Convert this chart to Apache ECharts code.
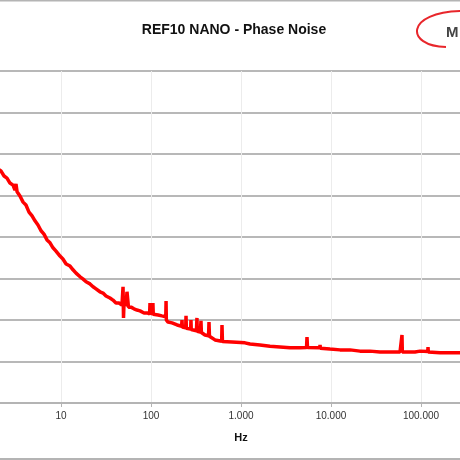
<!DOCTYPE html>
<html>
<head>
<meta charset="utf-8">
<script src="https://cdn.jsdelivr.net/npm/echarts@6/dist/echarts.min.js"></script>
<style>
  html, body { margin: 0; padding: 0; background: #fff; }
  #main { width: 460px; height: 460px; }
</style>
</head>
<body>
<div id="main"></div>
<script>
// offset frequency (Hz)
var freqs = [
  2.0, 2.15, 2.33, 2.51, 2.71, 2.93, 3.08, 3.16, 3.25, 3.50,
  3.79, 4.08, 4.41, 4.77, 5.14, 5.55, 6.0, 6.47, 6.99, 7.55,
  8.15, 8.80, 9.75, 10.5, 11.4, 12.6, 13.6, 14.7, 16.3, 17.5,
  19.0, 21.0, 22.7, 24.5, 27.1, 29.3, 31.6, 35.0, 37.8, 40.8,
  44.1, 47.6, 48.9, 49.5, 50.1, 52.7, 54.1, 55.5, 56.2, 60.0,
  64.7, 69.9, 75.5, 83.6, 90.3, 96.5, 97.5, 98.5, 104, 105,
  106, 110.8, 120, 132, 146, 147, 148, 154.4, 171, 195,
  219, 221, 223, 243, 245, 247, 276, 278, 280, 320,
  324, 327, 354, 359, 363, 398, 436, 441, 446, 514,
  610, 615, 622, 794, 1107, 1259, 1626, 2100, 2712, 3502,
  4523, 5350, 5412, 5480, 7500, 7555, 7620, 9750, 12590, 16260,
  21000, 27120, 35020, 45290, 58480, 61000, 61500, 62000, 85770, 97500,
  119000, 119700, 120500, 162600, 210000, 271200, 350000
];
// phase noise (dBc/Hz)
var noise = [
  -123.6, -124.1, -125.3, -125.8, -127.0, -127.5, -128.7, -127.2, -129.1, -130.1,
  -131.6, -132.3, -134.0, -134.9, -136.1, -137.1, -138.5, -139.3, -140.7, -141.4,
  -142.6, -143.4, -144.6, -145.3, -146.5, -147.0, -147.9, -148.7, -149.6, -150.1,
  -150.8, -151.3, -152.0, -152.5, -153.2, -153.5, -154.2, -154.7, -155.2, -155.9,
  -155.9, -156.4, -152.0, -159.5, -156.1, -156.6, -153.2, -153.2, -156.9, -156.9,
  -157.3, -157.6, -157.8, -158.3, -158.3, -158.5, -155.9, -158.4, -158.5, -155.9,
  -158.6, -158.6, -158.8, -159.0, -159.2, -155.4, -160.0, -160.5, -160.7, -161.2,
  -161.5, -160.0, -161.7, -161.9, -159.0, -162.0, -162.2, -160.0, -162.3, -162.6,
  -159.5, -162.7, -162.9, -160.2, -163.0, -163.6, -163.8, -160.5, -163.9, -164.8,
  -165.1, -161.2, -165.2, -165.3, -165.5, -165.8, -166.0, -166.3, -166.5, -166.7,
  -166.7, -166.6, -164.1, -166.6, -166.7, -166.0, -166.8, -167.0, -167.2, -167.2,
  -167.5, -167.5, -167.7, -167.7, -167.7, -167.7, -163.6, -167.7, -167.7, -167.5,
  -167.6, -166.5, -167.7, -167.9, -167.9, -167.9, -167.9
];
var xTicks = [10, 100, 1000, 10000, 100000];

var points = freqs.map(function (f, i) { return [f, noise[i]]; });

var chart = echarts.init(document.getElementById('main'));
chart.setOption({
  animation: false,
  backgroundColor: '#fff',
  title: {
    text: 'REF10 NANO - Phase Noise',
    left: 229,
    top: 18,
    textAlign: 'center',
    textStyle: { fontFamily: 'Liberation Sans', fontSize: 14, fontWeight: 'bold', color: '#111' }
  },
  grid: { left: -29, right: -51, top: 71, bottom: 57, containLabel: false, outerBoundsMode: 'none' },
  xAxis: {
    type: 'log',
    logBase: 10,
    min: 1,
    max: 1000000,
    name: 'Hz',
    nameLocation: 'middle',
    nameGap: 29,
    nameTextStyle: { fontFamily: 'Liberation Sans', fontSize: 11, fontWeight: 'bold', color: '#111' },
    axisLine: { lineStyle: { color: '#b4b4b4', width: 2 } },
    axisTick: { show: true, length: 4, lineStyle: { color: '#b4b4b4' } },
    axisLabel: {
      margin: 8,
      fontFamily: 'Liberation Sans',
      fontSize: 10,
      color: '#333',
      formatter: function (v) {
        if (xTicks.indexOf(v) < 0) return '';
        return String(v).replace(/\B(?=(\d{3})+(?!\d))/g, '.');
      }
    },
    splitLine: { show: true, lineStyle: { color: '#ececec', width: 1 } }
  },
  yAxis: {
    type: 'value',
    min: -180,
    max: -100,
    interval: 10,
    axisLine: { show: false },
    axisTick: { show: false },
    axisLabel: { show: false },
    splitLine: { lineStyle: { color: '#b8b8b8', width: 2 } }
  },
  series: [{
    type: 'line',
    data: points,
    symbol: 'none',
    lineStyle: { color: '#ff0000', width: 3.5 },
    z: 3
  }],
  graphic: [
    { type: 'line', shape: { x1: 0, y1: 0.5, x2: 460, y2: 0.5 }, style: { stroke: '#b4b4b4', lineWidth: 2 } },
    { type: 'line', shape: { x1: 0, y1: 459, x2: 460, y2: 459 }, style: { stroke: '#b4b4b4', lineWidth: 2 } },
    {
      type: 'bezierCurve',
      shape: { x1: 462, y1: 11, cpx1: 405, cpy1: 12, cpx2: 405, cpy2: 46, x2: 446, y2: 47 },
      style: { stroke: '#e8262b', lineWidth: 2, fill: null }
    },
    {
      type: 'text',
      x: 446,
      y: 25,
      style: { text: 'M', font: 'bold 15px "Liberation Sans"', fill: '#444' }
    }
  ]
});
</script>
</body>
</html>
